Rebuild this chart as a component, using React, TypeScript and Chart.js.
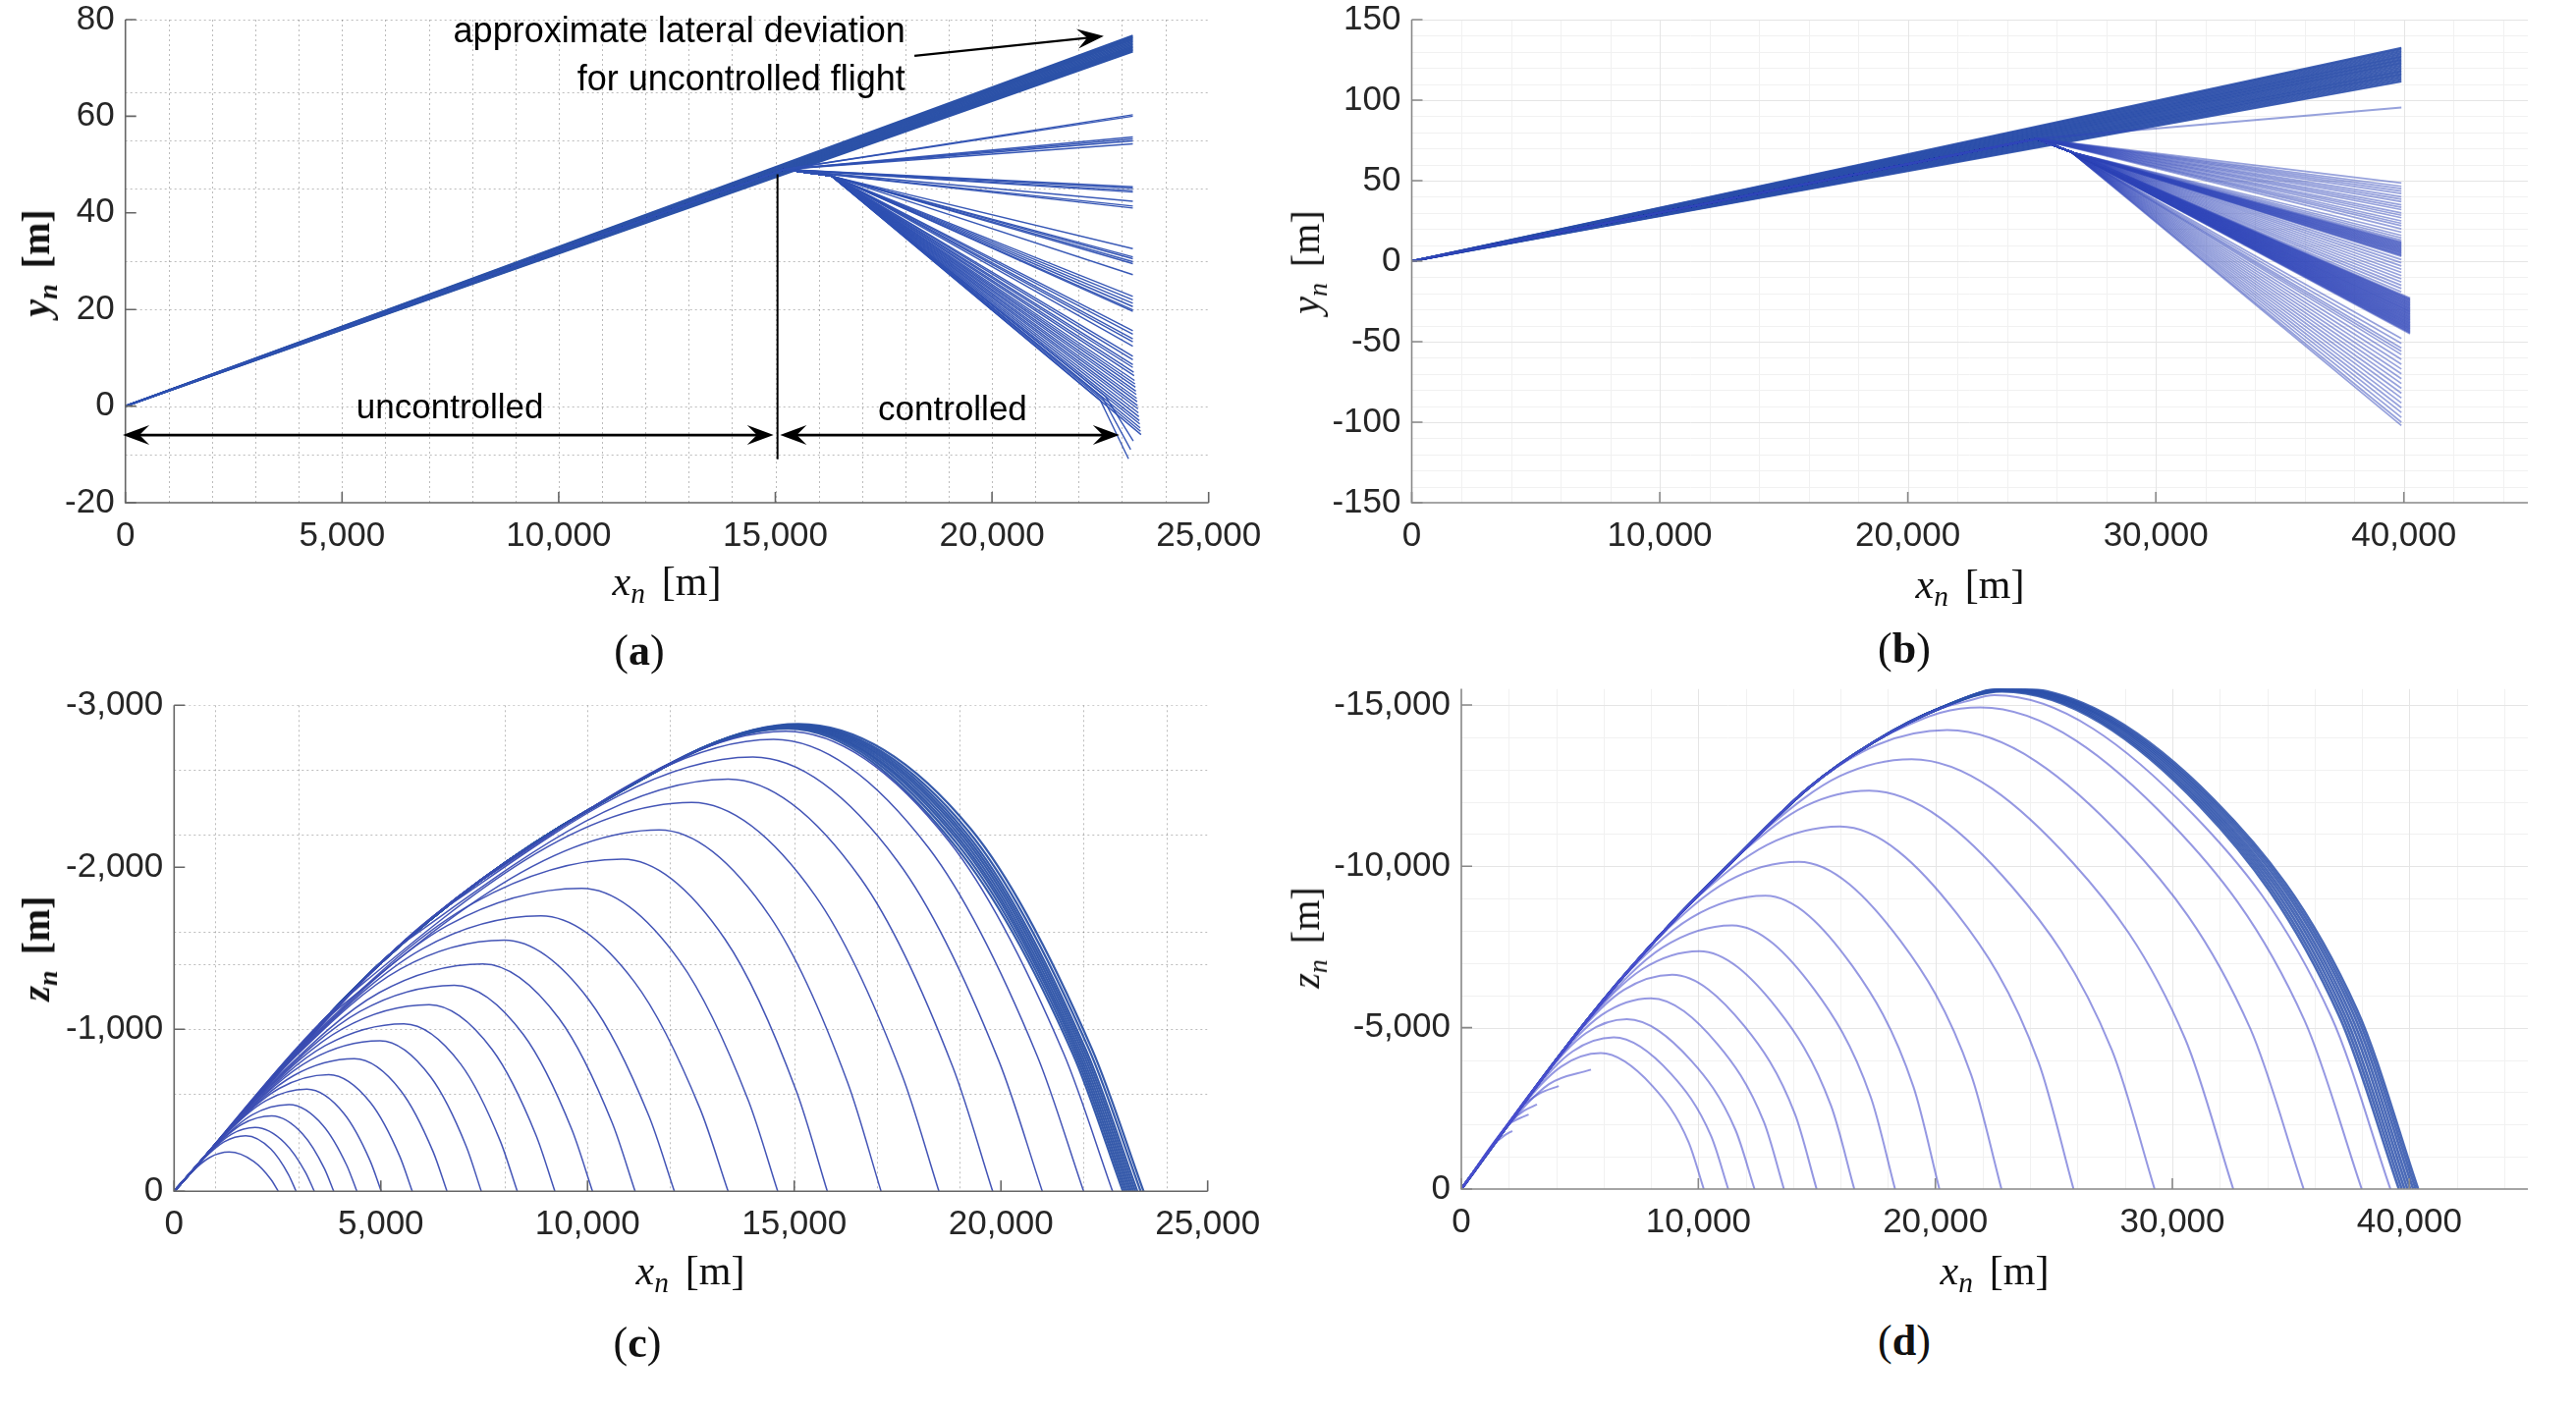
import React, { useEffect, useRef } from 'react';
import { Chart, registerables } from 'chart.js';

Chart.register(...registerables);

type Pt = { x: number; y: number };

// ============================ DATA ============================
// ---- (a) lateral deviation y_n vs x_n (25 km axis) ----
const aTicksX = [0, 5000, 10000, 15000, 20000, 25000];
const aTicksY = [-20, 0, 20, 40, 60, 80];
const aBandEndX = 23250;
const aBandEndY = [73.4, 73.7, 74.0, 74.3, 74.6, 74.9, 75.2, 75.5, 75.8, 76.1, 76.4, 76.7];
const aBranchXY = [15200, 49.0];
const aKneeXY = [16300, 47.6];
const aUpperEndX = 23250;
const aUpperEndY = [60.3, 60.0, 55.7, 55.3, 54.9, 54.3, 45.4, 45.1, 44.6, 44.3, 42.4, 41.4, 41.0];
const aLowerEndY = [32.6, 30.9, 30.5, 29.9, 29.5, 27.2, 22.7, 22.0, 21.3, 20.6, 19.9, 19.6, 15.6, 14.9, 13.9, 13.3, 12.4, 10.3, 9.6, 8.6, 8.0, 7.0, 6.3, 5.3, 4.6, 3.9, 3.1, 2.4, 1.6, 0.9, 0.1, -0.6, -1.4, -2.2, -3.0, -3.7, -4.5, -5.2, -5.9];
const aLowerEndX = [23250, 23250, 23250, 23250, 23250, 23250, 23250, 23250, 23250, 23250, 23250, 23250, 23250, 23250, 23250, 23250, 23250, 23250, 23250, 23250, 23250, 23270, 23280, 23290, 23300, 23310, 23320, 23330, 23340, 23350, 23360, 23370, 23380, 23390, 23400, 23410, 23420, 23430, 23440];
const aTailBendX = [22500, 22560, 22620];
const aTailBendY = [1.2, 1.6, 2.0];
const aTailEndX = [23150, 23200, 23260];
const aTailEndY = [-10.9, -9.0, -7.2];
// annotations of (a), in data units
const aSplitX = 15050;
const aSplitY = [48, -11];
const aArrowY = -6;
const aUncontrolledSpan = [-60, 14960];
const aControlledSpan = [15110, 22940];
const aUncontrolledLabelXY = [7490, -0.6];
const aControlledLabelXY = [19090, -0.9];
const aNoteLines = ['approximate lateral deviation', 'for uncontrolled flight'];
const aNoteRightX = 18000;
const aNoteLineY = [77.3, 67.46];
const aNoteArrowFrom = [18210, 72.5];
const aNoteArrowTo = [22580, 76.6];

// ---- (b) lateral deviation y_n vs x_n (45 km axis) ----
const bTicksX = [0, 10000, 20000, 30000, 40000];
const bTicksY = [-150, -100, -50, 0, 50, 100, 150];
const bEndX = 39900;
const bThickEndX = 40250;
const bBranchXY = [25200, 76.0];
const bKneeXY = [26600, 67.7];
const bBandEndY = [111.5, 112.5, 113.5, 114.5, 115.5, 116.5, 117.5, 118.5, 119.5, 120.5, 121.5, 122.5, 123.5, 124.5, 125.5, 126.5, 127.5, 128.5, 129.5, 130.5, 131.5, 132.5];
const bSingleEndY = 95.5;
const bUpperFanEndY = [48.5, 46.5, 45, 43.5, 42, 40, 38.5, 37, 35, 33.5, 32, 30, 28.5, 27, 25, 23.5, 22, 20];
const bKneeFanEndY = [18, 16, 14.5, 13, 12, 11.5, 11, 10.5, 10, 9.5, 9, 8.5, 8, 7.5, 7, 6.5, 6, 5.5, 5, 4.5, 4, 3.5, 3, 1, -1, -3, -5, -7, -9, -11, -13, -15, -17, -19];
const bThickEndY = [-23, -23.5, -24, -24.5, -25, -25.5, -26, -26.5, -27, -27.5, -28, -28.5, -29, -29.5, -30, -30.5, -31, -31.5, -32, -32.5, -33, -33.5, -34, -34.5, -35, -35.5, -36, -36.5, -37, -37.5, -38, -38.5, -39, -39.5, -40, -40.5, -41, -41.5, -42, -42.5, -43, -43.5, -44, -44.5, -45];
const bLowerEndY = [-48, -51, -54, -56, -58, -61, -64, -67, -70, -73, -76, -79, -82, -85, -88, -91, -94, -97, -100, -102];

// ---- (c) altitude z_n vs x_n (25 km axis) ----
const cTicksX = [0, 5000, 10000, 15000, 20000, 25000];
const cTicksY = [-3000, -2000, -1000, 0];
const cEnvX = [5000, 10000];
const cEnvZ = [-1410, -2350];
const cBranchX = [380, 690, 820, 930, 1000, 1240, 1350, 1420, 1590, 1750, 1970, 2210, 2450, 2960, 3140, 3360, 3650, 4030, 4440, 5500, 6500, 7500, 8500];
const cBranchZ = [-108, -195, -232, -263, -283, -351, -382, -402, -450, -495, -558, -625, -693, -838, -889, -951, -1033, -1140, -1256, -1525, -1740, -1930, -2110];
const cAscMidX = [855, 1210, 1390, 1645, 1890, 2225, 2545, 2890, 3285, 3655, 4070, 4495, 4960, 5475, 6005, 6610, 7245, null, null, null, null, null, null];
const cAscMidZ = [-208, -306, -353, -414, -472, -560, -635, -714, -809, -899, -1003, -1110, -1226, -1372, -1497, -1640, -1780, null, null, null, null, null, null];
const cApexX = [1330, 1730, 1960, 2360, 2780, 3210, 3740, 4360, 4980, 5560, 6170, 6780, 7470, 7990, 8870, 9860, 10840, 11730, 12520, 13400, 14000, 14500, 14800];
const cApexZ = [-242, -343, -394, -465, -535, -630, -720, -818, -929, -1034, -1152, -1272, -1404, -1550, -1700, -1870, -2050, -2230, -2400, -2545, -2680, -2790, -2840];
const cDesc1X = [1925, 2340, 2675, 3110, 3600, 4110, 4750, 5480, 6205, 6930, 7690, 8450, 9310, 10045, 11135, 12230, 13320, 14415, 15510, 16600, 17500, 18250, 18750];
const cDesc1Z = [-184, -261, -299, -353, -407, -479, -547, -622, -706, -786, -876, -967, -1067, -1178, -1292, -1421, -1558, -1695, -1824, -1934, -2037, -2120, -2158];
const cDesc2X = [2342, 2767, 3176, 3635, 4174, 4740, 5457, 6264, 7063, 7889, 8754, 9619, 10598, 11484, 12721, 13889, 15056, 16295, 17603, 18840, 19950, 20875, 21515];
const cDesc2Z = [-73, -103, -118, -140, -161, -189, -216, -245, -279, -310, -346, -382, -421, -465, -510, -561, -615, -669, -720, -764, -804, -837, -852];
const cLandX = [2520, 2950, 3390, 3860, 4420, 5010, 5760, 6600, 7430, 8300, 9210, 10120, 11150, 12100, 13400, 14600, 15800, 17100, 18500, 19800, 21000, 22000, 22700];
const cBandApexX = [14850, 14880, 14900, 14920, 14950, 14980, 15000, 15030, 15060, 15100];
const cBandApexZ = [-2855, -2860, -2865, -2868, -2870, -2872, -2875, -2878, -2880, -2885];
const cBandDesc1X = [18900, 18940, 18975, 19010, 19050, 19090, 19125, 19165, 19220, 19275];
const cBandDesc1Z = [-2130, -2145, -2160, -2170, -2180, -2190, -2200, -2210, -2220, -2235];
const cBandDesc2X = [21735, 21782, 21828, 21873, 21920, 21967, 22013, 22060, 22132, 22198];
const cBandDesc2Z = [-850, -855, -858, -860, -862, -865, -868, -870, -875, -880];
const cBandLandX = [22950, 23000, 23050, 23100, 23150, 23200, 23250, 23300, 23380, 23450];

// ---- (d) altitude z_n vs x_n (45 km axis) ----
const dTicksX = [0, 10000, 20000, 30000, 40000];
const dTicksY = [-15000, -10000, -5000, 0];
const dEnvX = [4000, 6500, 9000, 11500, 14600, 17400, 20200];
const dEnvZ = [-4000, -6300, -8350, -10200, -12400, -13850, -14900];
const dBranchX = [2540, 2970, 3540, 3820, 4820, 5250, 5560, 6550, 8300, 9800, 11800, 12900, 14600, 18500, 20000];
const dBranchZ = [-2540, -2970, -3540, -3820, -4755, -5150, -5435, -6340, -7775, -8940, -10410, -11190, -12400, -14260, -14830];
const dAscMidX = [4210, 4700, 5260, 5910, 6860, 7645, 8495, 9690, 11265, 12890, 14500, 15950, 17550, 20200, 21250];
const dAscMidZ = [-3792, -4268, -4830, -5388, -6169, -6815, -7486, -8403, -9549, -10658, -11858, -12788, -13765, -14755, -15100];
const dApexX = [5880, 6430, 6980, 8000, 8900, 10040, 11430, 12830, 14230, 15980, 17200, 19000, 20500, 21900, 22500];
const dApexZ = [-4210, -4700, -5260, -5910, -6640, -7370, -8170, -9090, -10140, -11230, -12340, -13320, -14220, -14920, -15300];
const dDesc1X = [8055, 8845, 9675, 10805, 11945, 13310, 14865, 16500, 18510, 20905, 23225, 25785, 28020, 29945, 30850];
const dDesc1Z = [-3200, -3572, -3998, -4492, -5046, -5601, -6209, -6908, -7706, -8535, -9378, -10123, -10807, -11339, -11628];
const dDesc2X = [9578, 10536, 11562, 12769, 14077, 15599, 17270, 19069, 21506, 24353, 27443, 30535, 33284, 35577, 36695];
const dDesc2Z = [-1474, -1645, -1841, -2069, -2324, -2580, -2860, -3182, -3549, -3931, -4319, -4662, -4977, -5222, -5355];
const dLandX = [10230, 11260, 12370, 13610, 14990, 16580, 18300, 20170, 22790, 25830, 29250, 32570, 35540, 37990, 39200];
const dBandApexX = [22800, 22850, 22900, 22950, 23000, 23050, 23100, 23150];
const dBandApexZ = [-15420, -15440, -15460, -15480, -15500, -15510, -15530, -15550];
const dBandDesc1X = [31180, 31265, 31350, 31435, 31520, 31605, 31685, 31760];
const dBandDesc1Z = [-11850, -11880, -11910, -11940, -11970, -12000, -12030, -12060];
const dBandDesc2X = [37046, 37156, 37265, 37375, 37484, 37594, 37695, 37787];
const dBandDesc2Z = [-5350, -5380, -5410, -5440, -5470, -5500, -5530, -5560];
const dBandLandX = [39560, 39680, 39800, 39920, 40040, 40160, 40270, 40370];
const dTruncBranchX = [1900, 2500, 2100, 2000, 1400];
const dTruncBranchZ = [-1900, -2500, -2100, -2000, -1400];
const dTruncMidX = [3700, 3300, 2650, 2450, 1780];
const dTruncMidZ = [-3250, -2960, -2430, -2190, -1640];
const dTruncEndX = [5470, 4110, 3190, 2840, 2150];
const dTruncEndZ = [-3700, -3190, -2620, -2310, -1800];

// ============================ STYLE ============================
const TICK_FONT = '"Liberation Sans", Arial, Helvetica, sans-serif';
const SERIF = '"Liberation Serif", "DejaVu Serif", "Times New Roman", serif';
const A_LINE = 'rgba(46, 80, 178, 0.95)';
const A_BAND = 'rgb(44, 82, 168)';
const B_LINE = 'rgba(48, 70, 185, 0.5)';
const B_BAND = 'rgba(42, 78, 170, 0.9)';
const C_LINE = 'rgba(58, 76, 178, 0.95)';
const C_BAND = 'rgba(44, 82, 166, 0.95)';
const D_LINE = 'rgba(72, 78, 205, 0.58)';
const D_BAND = 'rgba(44, 80, 170, 0.85)';

const range = (a: number, b: number, s: number) => {
  const r: number[] = [];
  for (let v = a; v <= b + 1e-9; v += s) r.push(v);
  return r;
};
const fmt = (v: any) => Number(v).toLocaleString('en-US');

function line(pts: Pt[], color: string, width: number, smooth = false) {
  return {
    data: pts,
    showLine: true,
    borderColor: color,
    borderWidth: width,
    pointRadius: 0,
    fill: false,
    tension: 0,
    cubicInterpolationMode: smooth ? 'monotone' : 'default',
    parsing: false,
  };
}

// ============================ DATASETS ============================
function buildA() {
  const ds: any[] = [];
  const o = { x: 0, y: 0 };
  const br = { x: aBranchXY[0], y: aBranchXY[1] };
  const kn = { x: aKneeXY[0], y: aKneeXY[1] };
  aUpperEndY.forEach((y) => ds.push(line([o, br, { x: aUpperEndX, y }], A_LINE, 1.4)));
  aLowerEndY.forEach((y, i) => ds.push(line([o, br, kn, { x: aLowerEndX[i], y }], A_LINE, 1.4)));
  aTailEndY.forEach((y, i) =>
    ds.push(line([o, br, kn, { x: aTailBendX[i], y: aTailBendY[i] }, { x: aTailEndX[i], y }], A_LINE, 1.4))
  );
  aBandEndY.forEach((y) => ds.push(line([o, { x: aBandEndX, y }], A_BAND, 2)));
  return ds;
}

function buildB() {
  const ds: any[] = [];
  const o = { x: 0, y: 0 };
  const br = { x: bBranchXY[0], y: bBranchXY[1] };
  const kn = { x: bKneeXY[0], y: bKneeXY[1] };
  ds.push(line([o, br, { x: bEndX, y: bSingleEndY }], B_LINE, 2));
  bUpperFanEndY.forEach((y) => ds.push(line([o, br, { x: bEndX, y }], B_LINE, 1.7)));
  bKneeFanEndY.forEach((y) => ds.push(line([o, br, kn, { x: bEndX, y }], B_LINE, 1.7)));
  bThickEndY.forEach((y) => ds.push(line([o, br, kn, { x: bThickEndX, y }], B_LINE, 1.9)));
  bLowerEndY.forEach((y) => ds.push(line([o, br, kn, { x: bEndX, y }], B_LINE, 1.7)));
  bBandEndY.forEach((y) => ds.push(line([o, { x: bEndX, y }], B_BAND, 2)));
  return ds;
}

function arcPts(envX: number[], envZ: number[], keys: any[][]) {
  const pts: Pt[] = [{ x: 0, y: 0 }];
  const firstX = keys[0][0];
  envX.forEach((x, i) => {
    if (x < firstX - 50) pts.push({ x, y: envZ[i] });
  });
  keys.forEach((k) => {
    if (k[0] !== null && k[0] !== undefined) pts.push({ x: k[0], y: k[1] });
  });
  return pts;
}

function buildC() {
  const ds: any[] = [];
  cApexX.forEach((ax, i) => {
    const pts = arcPts(cEnvX, cEnvZ, [
      [cBranchX[i], cBranchZ[i]],
      [cAscMidX[i], cAscMidZ[i]],
      [ax, cApexZ[i]],
      [cDesc1X[i], cDesc1Z[i]],
      [cDesc2X[i], cDesc2Z[i]],
      [cLandX[i], 0],
    ]);
    ds.push(line(pts, C_LINE, 1.5, true));
  });
  cBandApexX.forEach((ax, i) => {
    const pts = arcPts(cEnvX, cEnvZ, [
      [ax, cBandApexZ[i]],
      [cBandDesc1X[i], cBandDesc1Z[i]],
      [cBandDesc2X[i], cBandDesc2Z[i]],
      [cBandLandX[i], 0],
    ]);
    ds.push(line(pts, C_BAND, 2.2, true));
  });
  return ds;
}

function buildD() {
  const ds: any[] = [];
  dTruncEndX.forEach((ex, i) => {
    const pts = arcPts(dEnvX, dEnvZ, [
      [dTruncBranchX[i], dTruncBranchZ[i]],
      [dTruncMidX[i], dTruncMidZ[i]],
      [ex, dTruncEndZ[i]],
    ]);
    ds.push(line(pts, D_LINE, 2, true));
  });
  dApexX.forEach((ax, i) => {
    const pts = arcPts(dEnvX, dEnvZ, [
      [dBranchX[i], dBranchZ[i]],
      [dAscMidX[i], dAscMidZ[i]],
      [ax, dApexZ[i]],
      [dDesc1X[i], dDesc1Z[i]],
      [dDesc2X[i], dDesc2Z[i]],
      [dLandX[i], 0],
    ]);
    ds.push(line(pts, D_LINE, 2, true));
  });
  dBandApexX.forEach((ax, i) => {
    const pts = arcPts(dEnvX, dEnvZ, [
      [ax, dBandApexZ[i]],
      [dBandDesc1X[i], dBandDesc1Z[i]],
      [dBandDesc2X[i], dBandDesc2Z[i]],
      [dBandLandX[i], 0],
    ]);
    ds.push(line(pts, D_BAND, 2.6, true));
  });
  return ds;
}

// ============================ DRAW HELPERS ============================
function arrowHead(ctx: CanvasRenderingContext2D, tx: number, ty: number, fx: number, fy: number) {
  const len = 27, half = 10, notch = 17;
  const ang = Math.atan2(ty - fy, tx - fx);
  const c = Math.cos(ang), s = Math.sin(ang);
  const bx = tx - len * c, by = ty - len * s;
  const nx = tx - notch * c, ny = ty - notch * s;
  ctx.beginPath();
  ctx.moveTo(tx, ty);
  ctx.lineTo(bx - half * s, by + half * c);
  ctx.lineTo(nx, ny);
  ctx.lineTo(bx + half * s, by - half * c);
  ctx.closePath();
  ctx.fill();
}

function drawAnnotationsA(chart: any) {
  const { ctx } = chart;
  const xs = chart.scales.x, ys = chart.scales.y;
  const X = (v: number) => xs.getPixelForValue(v);
  const Y = (v: number) => ys.getPixelForValue(v);
  ctx.strokeStyle = '#000';
  ctx.fillStyle = '#000';
  ctx.lineWidth = 2;
  ctx.beginPath();
  ctx.moveTo(X(aSplitX), Y(aSplitY[0]));
  ctx.lineTo(X(aSplitX), Y(aSplitY[1]));
  ctx.stroke();
  ctx.lineWidth = 2.6;
  [aUncontrolledSpan, aControlledSpan].forEach((sp) => {
    const x1 = X(sp[0]), x2 = X(sp[1]), y = Y(aArrowY);
    ctx.beginPath();
    ctx.moveTo(x1 + 15, y);
    ctx.lineTo(x2 - 15, y);
    ctx.stroke();
    arrowHead(ctx, x1, y, x2, y);
    arrowHead(ctx, x2, y, x1, y);
  });
  ctx.font = `35px ${TICK_FONT}`;
  ctx.textAlign = 'center';
  ctx.textBaseline = 'middle';
  ctx.fillText('uncontrolled', X(aUncontrolledLabelXY[0]), Y(aUncontrolledLabelXY[1]));
  ctx.fillText('controlled', X(aControlledLabelXY[0]), Y(aControlledLabelXY[1]));
  ctx.font = `36px ${TICK_FONT}`;
  ctx.textAlign = 'right';
  aNoteLines.forEach((t, i) => ctx.fillText(t, X(aNoteRightX), Y(aNoteLineY[i])));
  const fx = X(aNoteArrowFrom[0]), fy = Y(aNoteArrowFrom[1]);
  const tx = X(aNoteArrowTo[0]), ty = Y(aNoteArrowTo[1]);
  ctx.lineWidth = 2.2;
  const ang = Math.atan2(ty - fy, tx - fx);
  ctx.beginPath();
  ctx.moveTo(fx, fy);
  ctx.lineTo(tx - 15 * Math.cos(ang), ty - 15 * Math.sin(ang));
  ctx.stroke();
  arrowHead(ctx, tx, ty, fx, fy);
}

function makeFramePlugin(spec: any) {
  return {
    id: 'frame',
    beforeDatasetsDraw(chart: any) {
      const { ctx, chartArea: ca } = chart;
      const xs = chart.scales.x, ys = chart.scales.y;
      ctx.save();
      ctx.beginPath();
      ctx.rect(ca.left, ca.top, ca.right - ca.left, ca.bottom - ca.top);
      ctx.clip();
      for (const g of spec.grid) {
        ctx.strokeStyle = g.color;
        ctx.lineWidth = 1;
        ctx.setLineDash(g.dash || []);
        for (const v of g.values) {
          ctx.beginPath();
          if (g.axis === 'x') {
            const p = Math.round(xs.getPixelForValue(v)) + 0.5;
            ctx.moveTo(p, ca.top);
            ctx.lineTo(p, ca.bottom);
          } else {
            const p = Math.round(ys.getPixelForValue(v)) + 0.5;
            ctx.moveTo(ca.left, p);
            ctx.lineTo(ca.right, p);
          }
          ctx.stroke();
        }
      }
      ctx.restore();
    },
    afterDatasetsDraw(chart: any) {
      const { ctx, chartArea: ca } = chart;
      const xs = chart.scales.x, ys = chart.scales.y;
      ctx.save();
      ctx.setLineDash([]);
      ctx.strokeStyle = spec.axisColor;
      ctx.lineWidth = 1.6;
      ctx.beginPath();
      ctx.moveTo(ca.left, ca.top);
      ctx.lineTo(ca.left, ca.bottom);
      ctx.lineTo(ca.right, ca.bottom);
      ctx.stroke();
      ctx.beginPath();
      for (const v of spec.xTicks) {
        const p = xs.getPixelForValue(v);
        ctx.moveTo(p, ca.bottom);
        ctx.lineTo(p, ca.bottom - 11);
      }
      for (const v of spec.yTicks) {
        const p = ys.getPixelForValue(v);
        ctx.moveTo(ca.left, p);
        ctx.lineTo(ca.left + 11, p);
      }
      ctx.stroke();
      ctx.restore();
      if (spec.draw) {
        ctx.save();
        spec.draw(chart);
        ctx.restore();
      }
    },
  };
}

// ============================ PANELS ============================
const DOT = 'rgba(80,80,80,0.38)';
const LIGHT = '#f1f1f1';
const LIGHT_MAJOR = '#e5e5e5';

const panels: any[] = [
  {
    key: 'a',
    canvas: { left: 0, top: -40, width: 1300, height: 620 },
    area: { left: 127.7, top: 20, right: 1230.7, bottom: 512 },
    xMin: 0, xMax: 25000, yMin: -20, yMax: 80, reverse: false,
    xTicks: aTicksX, yTicks: aTicksY,
    build: buildA,
    grid: [
      { axis: 'x', values: range(1000, 25000, 1000), color: DOT, dash: [2, 3] },
      { axis: 'y', values: [80, 65, 55, 45, 30, 20, 0, -10], color: DOT, dash: [2, 3] },
    ],
    axisColor: '#666',
    draw: drawAnnotationsA,
  },
  {
    key: 'b',
    canvas: { left: 1300, top: -40, width: 1323, height: 620 },
    area: { left: 1437.5, top: 20, right: 2574, bottom: 512 },
    xMin: 0, xMax: 45000, yMin: -150, yMax: 150, reverse: false,
    xTicks: bTicksX, yTicks: bTicksY,
    build: buildB,
    grid: [
      { axis: 'x', values: range(2000, 44000, 2000).filter((v) => v % 10000 !== 0), color: LIGHT },
      { axis: 'y', values: range(-140, 150, 10).filter((v) => v % 50 !== 0), color: LIGHT },
      { axis: 'x', values: [10000, 20000, 30000, 40000], color: LIGHT_MAJOR },
      { axis: 'y', values: [-100, -50, 0, 50, 100, 150], color: LIGHT_MAJOR },
    ],
    axisColor: '#888',
  },
  {
    key: 'c',
    canvas: { left: 0, top: 660, width: 1300, height: 620 },
    area: { left: 177.3, top: 718.3, right: 1229.7, bottom: 1213.3 },
    xMin: 0, xMax: 25000, yMin: -3000, yMax: 0, reverse: true,
    xTicks: cTicksX, yTicks: cTicksY,
    build: buildC,
    grid: [
      { axis: 'x', values: [1000, 3000, 8000, 10000, 12000, 15000, 17000, 19000, 22000, 24000], color: DOT, dash: [2, 3] },
      { axis: 'y', values: [-3000, -2600, -2200, -1600, -1400, -1000, -600], color: DOT, dash: [2, 3] },
    ],
    axisColor: '#666',
  },
  {
    key: 'd',
    canvas: { left: 1300, top: 640, width: 1323, height: 640 },
    area: { left: 1488, top: 701.5, right: 2574, bottom: 1211 },
    xMin: 0, xMax: 45000, yMin: -15500, yMax: 0, reverse: true,
    xTicks: dTicksX, yTicks: dTicksY,
    build: buildD,
    grid: [
      { axis: 'x', values: range(2000, 44000, 2000).filter((v) => v % 10000 !== 0), color: LIGHT },
      { axis: 'y', values: range(-15000, -1000, 1000).filter((v) => v % 5000 !== 0), color: LIGHT },
      { axis: 'x', values: [10000, 20000, 30000, 40000], color: LIGHT_MAJOR },
      { axis: 'y', values: [-15000, -10000, -5000], color: LIGHT_MAJOR },
    ],
    axisColor: '#888',
  },
];

function PanelChart({ spec }: { spec: any }) {
  const ref = useRef<HTMLCanvasElement>(null);
  const c = spec.canvas;
  useEffect(() => {
    const a = spec.area;
    const yW = a.left - c.left;
    const padTop = a.top - c.top;
    const padRight = c.left + c.width - a.right;
    const xH = c.top + c.height - a.bottom;
    const tickFont = { family: TICK_FONT, size: 35 };
    const chart = new Chart(ref.current as HTMLCanvasElement, {
      type: 'scatter',
      data: { datasets: spec.build() },
      options: {
        animation: false,
        responsive: false,
        maintainAspectRatio: false,
        devicePixelRatio: 1,
        events: [],
        layout: { padding: { left: 0, top: padTop, right: padRight, bottom: 0 } },
        plugins: { legend: { display: false }, tooltip: { enabled: false }, title: { display: false } },
        scales: {
          x: {
            type: 'linear',
            min: spec.xMin,
            max: spec.xMax,
            afterBuildTicks: (s: any) => {
              s.ticks = spec.xTicks.map((v: number) => ({ value: v }));
            },
            afterFit: (s: any) => {
              s.height = xH;
            },
            grid: { display: false, drawTicks: false },
            border: { display: false },
            ticks: { font: tickFont, color: '#262626', padding: 13, maxRotation: 0, autoSkip: false, callback: fmt },
          },
          y: {
            type: 'linear',
            min: spec.yMin,
            max: spec.yMax,
            reverse: spec.reverse,
            afterBuildTicks: (s: any) => {
              s.ticks = spec.yTicks.map((v: number) => ({ value: v }));
            },
            afterFit: (s: any) => {
              s.width = yW;
            },
            grid: { display: false, drawTicks: false },
            border: { display: false },
            ticks: { font: tickFont, color: '#262626', padding: 11, autoSkip: false, callback: fmt },
          },
        },
      } as any,
      plugins: [makeFramePlugin(spec)],
    } as any);
    return () => chart.destroy();
  }, []);
  return (
    <canvas
      ref={ref}
      width={c.width}
      height={c.height}
      style={{ position: 'absolute', left: c.left, top: c.top, width: c.width, height: c.height }}
    />
  );
}

function AxisTitle({ v, cx, cy, rotate, bold, size }: any) {
  return (
    <div
      style={{
        position: 'absolute',
        left: cx,
        top: cy,
        transform: `translate(-50%, -50%)${rotate ? ' rotate(-90deg)' : ''}`,
        fontFamily: SERIF,
        fontSize: size,
        lineHeight: 1,
        whiteSpace: 'nowrap',
        color: '#111',
        fontWeight: bold ? 700 : 400,
      }}
    >
      <span style={{ fontStyle: 'italic' }}>{v}</span>
      <span style={{ fontStyle: 'italic', fontSize: '0.7em', position: 'relative', top: '0.28em' }}>n</span>
      <span style={{ marginLeft: '0.4em' }}>[m]</span>
    </div>
  );
}

function PanelLabel({ t, cx, cy }: any) {
  return (
    <div
      style={{
        position: 'absolute',
        left: cx,
        top: cy,
        transform: 'translate(-50%, -50%)',
        fontFamily: SERIF,
        fontSize: 44,
        lineHeight: 1,
        color: '#111',
      }}
    >
      (<b>{t}</b>)
    </div>
  );
}

export default function App() {
  return (
    <div
      style={{
        position: 'fixed',
        left: 0,
        top: 0,
        width: 2623,
        height: 1434,
        background: '#fff',
        overflow: 'hidden',
      }}
    >
      {panels.map((p) => (
        <PanelChart key={p.key} spec={p} />
      ))}
      <AxisTitle v="x" cx={679} cy={592} size={42} />
      <AxisTitle v="x" cx={2006} cy={595} size={42} />
      <AxisTitle v="x" cx={703} cy={1294} size={42} />
      <AxisTitle v="x" cx={2031} cy={1294} size={42} />
      <AxisTitle v="y" cx={37} cy={268} size={40} rotate bold />
      <AxisTitle v="y" cx={1330} cy={267} size={40} rotate />
      <AxisTitle v="z" cx={37} cy={966} size={40} rotate bold />
      <AxisTitle v="z" cx={1330} cy={955} size={40} rotate />
      <PanelLabel t="a" cx={651} cy={663} />
      <PanelLabel t="b" cx={1939} cy={661} />
      <PanelLabel t="c" cx={649} cy={1368} />
      <PanelLabel t="d" cx={1939} cy={1366} />
    </div>
  );
}
